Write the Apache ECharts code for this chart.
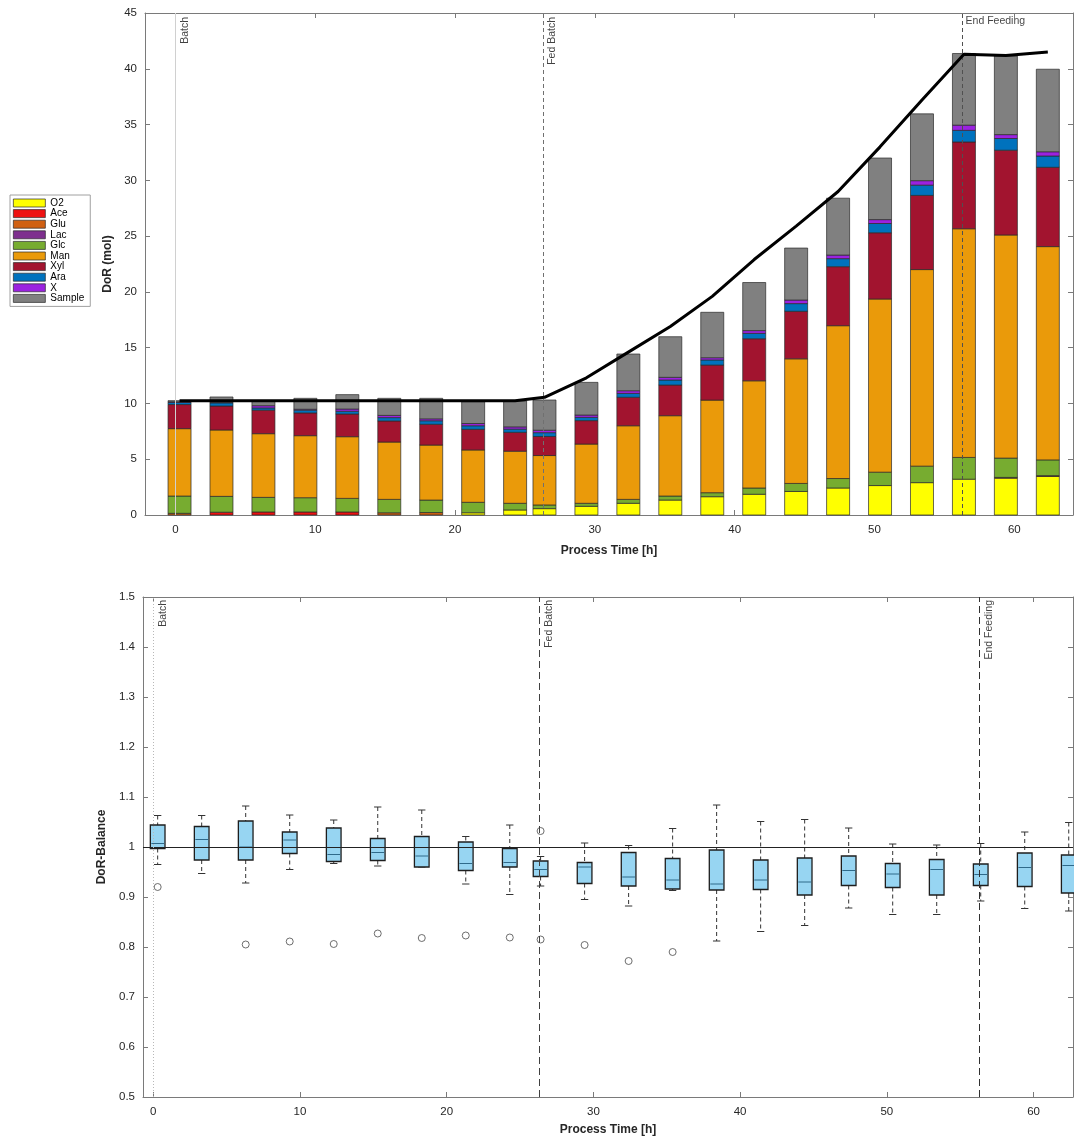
<!DOCTYPE html>
<html><head><meta charset="utf-8">
<script src="https://cdn.jsdelivr.net/npm/echarts@6/dist/echarts.min.js"></script>
<style>html,body{margin:0;padding:0;background:#fff}#c{width:1074px;height:1137px}</style>
</head><body><div id="c"></div>
<script>
// ---------- data ----------
const sampleTimes = [0.3,3.3,6.3,9.3,12.3,15.3,18.3,21.3,24.3,26.4,29.4,32.4,35.4,38.4,41.4,44.4,47.4,50.4,53.4,56.4,59.4,62.4];
const speciesNames = ['O2','Ace','Glu','Lac','Glc','Man','Xyl','Ara','X','Sample'];
const speciesColors = ['#ffff00','#ee1111','#d06012','#7e2f8e','#77ac30','#ea9a0a','#a2142f','#0072bd','#9b22e0','#808080'];
const O2     = [0,0,0,0,0,0,0,0.2,0.45,0.57,0.78,1.05,1.34,1.64,1.86,2.11,2.42,2.64,2.9,3.21,3.3,3.45];
const Ace    = [0,0.25,0.27,0.27,0.27,0,0,0,0,0,0,0,0,0,0,0,0,0,0,0,0,0];
const Glu    = [0.15,0,0,0,0,0.2,0.22,0,0,0,0,0,0,0,0,0,0,0,0,0,0.07,0.08];
const Lac    = [0,0,0,0,0,0,0,0,0,0,0,0,0,0,0,0,0,0,0,0,0,0];
const Glc    = [1.55,1.42,1.31,1.28,1.22,1.2,1.12,0.94,0.6,0.33,0.27,0.35,0.36,0.36,0.56,0.72,0.85,1.2,1.48,1.95,1.73,1.41];
const Man    = [6.04,5.95,5.71,5.56,5.53,5.14,4.93,4.69,4.67,4.43,5.31,6.6,7.2,8.3,9.61,11.17,13.7,15.52,17.62,20.5,20.0,19.12];
const Xyl    = [2.16,2.15,2.11,2.04,2.03,1.89,1.86,1.85,1.69,1.71,2.1,2.55,2.75,3.14,3.77,4.26,5.29,5.94,6.65,7.78,7.6,7.11];
const Ara    = [0.2,0.28,0.2,0.25,0.25,0.3,0.32,0.32,0.29,0.34,0.29,0.35,0.45,0.46,0.48,0.69,0.72,0.83,0.92,1.04,1.05,1.01];
const Xbio   = [0.05,0.05,0.2,0.08,0.2,0.2,0.17,0.2,0.2,0.22,0.21,0.24,0.24,0.2,0.25,0.32,0.32,0.35,0.4,0.47,0.35,0.38];
const Sample = [0.1,0.48,0.4,0.98,1.29,1.53,1.84,1.96,2.32,2.71,2.93,3.29,3.64,4.07,4.31,4.66,5.1,5.52,5.99,6.42,7.05,7.4];
const speciesValues = [O2,Ace,Glu,Lac,Glc,Man,Xyl,Ara,Xbio,Sample];
const dorTotal = [10.25,10.25,10.25,10.25,10.25,10.25,10.25,10.25,10.25,10.55,12.3,14.6,16.9,19.6,22.9,25.9,29.0,33.0,37.2,41.3,41.2,41.5];

const whiskerLow  = [0.965,0.947,0.928,0.955,0.967,0.962,0.960,0.926,0.905,0.922,0.895,0.882,0.913,0.812,0.831,0.843,0.878,0.865,0.865,0.892,0.877,0.872];
const boxQ1       = [0.997,0.974,0.974,0.987,0.971,0.973,0.960,0.953,0.960,0.941,0.927,0.922,0.916,0.914,0.915,0.904,0.923,0.919,0.904,0.923,0.921,0.908];
const boxMedian   = [1.007,1.015,1.000,1.014,0.985,0.989,0.982,0.967,0.969,0.955,0.960,0.940,0.934,0.926,0.934,0.930,0.953,0.946,0.955,0.945,0.959,0.963];
const boxQ3       = [1.044,1.041,1.052,1.030,1.038,1.017,1.021,1.010,0.997,0.972,0.969,0.989,0.977,0.994,0.974,0.978,0.982,0.967,0.975,0.966,0.988,0.984];
const whiskerHigh = [1.063,1.063,1.082,1.064,1.054,1.080,1.074,1.021,1.044,0.981,1.008,1.003,1.037,1.084,1.051,1.055,1.038,1.006,1.004,1.007,1.030,1.049];
const outlierTimes  = [0.3,6.3,9.3,12.3,15.3,18.3,21.3,24.3,26.4,26.4,29.4,32.4,35.4];
const outlierValues = [0.920,0.805,0.811,0.806,0.827,0.818,0.823,0.819,1.032,0.815,0.804,0.772,0.790];

const eventTimes = [0, 26.3, 56.3];
const eventNames = ['Batch','Fed Batch','End Feeding'];
const xTicks = [0,10,20,30,40,50,60];
const topYMax = 45, botYMin = 0.5, botYMax = 1.5;

// ---------- chart ----------
const FONT = "'Liberation Sans', Arial, sans-serif";
const AX = '#7a7a7a', TXT = '#262626';
const chart = echarts.init(document.getElementById('c'), null, {renderer:'canvas'});

function xAx(grid, min, max, pos, showLabel, name){
  return {type:'value', gridIndex:grid, min:min, max:max, position:pos,
    name: name || '', nameLocation:'middle', nameGap: grid===0?30:27,
    nameTextStyle:{fontFamily:FONT,fontSize:12,fontWeight:'bold',color:TXT},
    axisLine:{show:true,onZero:false,lineStyle:{color:AX,width:1}},
    axisTick:{show:true,inside:true,length:5,customValues:xTicks,lineStyle:{color:AX}},
    axisLabel:{show:showLabel,customValues:xTicks,fontFamily:FONT,fontSize:11.5,color:TXT,margin:9},
    splitLine:{show:false}};
}
function yAx(grid, min, max, interval, pos, showLabel, name, fmt){
  return {type:'value', gridIndex:grid, min:min, max:max, interval:interval, position:pos,
    name: name || '', nameLocation:'middle', nameGap:30,
    nameTextStyle:{fontFamily:FONT,fontSize:12,fontWeight:'bold',color:TXT},
    axisLine:{show:true,onZero:false,lineStyle:{color:AX,width:1}},
    axisTick:{show:true,inside:true,length:5,lineStyle:{color:AX}},
    axisLabel:{show:showLabel,fontFamily:FONT,fontSize:11.5,color:TXT,margin:8,formatter:fmt},
    splitLine:{show:false}};
}

const topXMin = -2.17, topXMax = 64.2, botXMin = -0.7, botXMax = 62.69;
const BAR_W_H = 1.645; // bar width in hours

// cumulative stacking (bottom -> top in legend order)
const cum = sampleTimes.map(() => 0);
const series = [];
speciesNames.forEach((nm, k) => {
  const data = sampleTimes.map((t, i) => {
    const base = cum[i];
    cum[i] = base + speciesValues[k][i];
    return [t, base, cum[i]];
  });
  series.push({name:nm, type:'custom', xAxisIndex:0, yAxisIndex:0, z:2,
    itemStyle:{color:speciesColors[k], borderColor:'#2a2a2a', borderWidth:0.7},
    encode:{x:0, y:[1,2]},
    data: data,
    renderItem: function(params, api){
      const t = api.value(0), b = api.value(1), tp = api.value(2);
      if (tp - b <= 0) return null;
      const p0 = api.coord([t, b]), p1 = api.coord([t, tp]);
      const w = api.size([BAR_W_H, 0])[0];
      return {type:'rect', shape:{x:p0[0]-w/2, y:p1[1], width:w, height:p0[1]-p1[1]},
        style:{fill:speciesColors[k], stroke:'#2a2a2a', lineWidth:0.7}};
    }
  });
});

const topEventStyles = [
  {color:'#d0d0d0', type:'solid', width:1},
  {color:'#707070', type:[4,3], width:1},
  {color:'#505050', type:[4,3], width:1}];
const botEventStyles = [
  {color:'#b8b8b8', type:[1,2], width:1},
  {color:'#404040', type:[7,4], width:1},
  {color:'#303030', type:[7,4], width:1}];

series.push({name:'DoR total', type:'line', xAxisIndex:0, yAxisIndex:0, z:5,
  showSymbol:false, symbol:'none', lineStyle:{color:'#000', width:3}, itemStyle:{color:'#000'},
  data: sampleTimes.map((t,i)=>[t, dorTotal[i]]),
  markLine:{silent:true, symbol:['none','none'], label:{show:false}, animation:false,
    data: eventTimes.map((t,i)=>({xAxis:t, lineStyle:topEventStyles[i]}))}
});

// event labels (top)
series.push({name:'top events', type:'scatter', xAxisIndex:0, yAxisIndex:0, symbolSize:0, silent:true, z:6,
  data: eventTimes.map((t,i)=>({value:[t, topYMax], label: i<2 ?
    {show:true, formatter:eventNames[i], rotate:90, align:'right', verticalAlign:'top', padding:[4,4,0,0], fontFamily:FONT, fontSize:10.5, color:'#111'} :
    {show:true, formatter:eventNames[i], rotate:0, align:'left', verticalAlign:'top', padding:[3,0,0,3], fontFamily:FONT, fontSize:10.5, color:'#111'}}))
});

// bottom boxplots
series.push({name:'DoR-Balance', type:'custom', xAxisIndex:2, yAxisIndex:2, z:3,
  encode:{x:0, y:[1,2,3,4,5]},
  data: sampleTimes.map((t,i)=>[t, whiskerLow[i], boxQ1[i], boxMedian[i], boxQ3[i], whiskerHigh[i]]),
  renderItem: function(params, api){
    const t = api.value(0);
    const pLo = api.coord([t, api.value(1)]);
    const pQ1 = api.coord([t, api.value(2)]);
    const pMed = api.coord([t, api.value(3)]);
    const pQ3 = api.coord([t, api.value(4)]);
    const pHi = api.coord([t, api.value(5)]);
    const bw = api.size([1.0, 0])[0];
    const hw = bw/2, cw = bw/4, x = pMed[0];
    const dash = {stroke:'#333', lineWidth:1, lineDash:[4,3]};
    const solid = {stroke:'#333', lineWidth:1};
    return {type:'group', children:[
      {type:'line', shape:{x1:x,y1:pHi[1],x2:x,y2:pQ3[1]}, style:dash},
      {type:'line', shape:{x1:x,y1:pQ1[1],x2:x,y2:pLo[1]}, style:dash},
      {type:'line', shape:{x1:x-cw,y1:pHi[1],x2:x+cw,y2:pHi[1]}, style:solid},
      {type:'line', shape:{x1:x-cw,y1:pLo[1],x2:x+cw,y2:pLo[1]}, style:solid},
      {type:'rect', shape:{x:x-hw,y:pQ3[1],width:bw,height:pQ1[1]-pQ3[1]}, style:{fill:'#97d5f2',stroke:'#1e1e1e',lineWidth:1.3}},
      {type:'line', shape:{x1:x-hw+1,y1:pMed[1],x2:x+hw-1,y2:pMed[1]}, style:{stroke:'#2f6a8a',lineWidth:1}}
    ]};
  },
  markLine:{silent:true, symbol:['none','none'], label:{show:false}, animation:false,
    data: [{yAxis:1, lineStyle:{color:'#222', type:'solid', width:1}}].concat(
      eventTimes.map((t,i)=>({xAxis:t, lineStyle:botEventStyles[i]})))}
});

series.push({name:'Outliers', type:'scatter', xAxisIndex:2, yAxisIndex:2, z:4, symbol:'circle', symbolSize:7,
  itemStyle:{color:'rgba(0,0,0,0)', borderColor:'#4a4a4a', borderWidth:1},
  data: outlierTimes.map((t,i)=>[t, outlierValues[i]])});

series.push({name:'bottom events', type:'scatter', xAxisIndex:2, yAxisIndex:2, symbolSize:0, silent:true, z:6,
  data: eventTimes.map((t,i)=>({value:[t, botYMax], label:
    {show:true, formatter:eventNames[i], rotate:90, align:'right', verticalAlign:'top', padding:[4,3,0,0], fontFamily:FONT, fontSize:10.5, color:'#111'}}))
});

chart.setOption({
  animation:false,
  backgroundColor:'#fff',
  textStyle:{fontFamily:FONT},
  legend:{data:speciesNames, orient:'vertical', left:10, top:195, icon:'rect',
    itemWidth:32, itemHeight:8, itemGap:0.6, padding:[3,6,3,3], selectedMode:false,
    borderColor:'#a0a0a0', borderWidth:1, backgroundColor:'#fff',
    itemStyle:{borderColor:'#2a2a2a', borderWidth:0.7},
    textStyle:{fontFamily:FONT, fontSize:10, lineHeight:10, color:'#000'}},
  grid:[
    {left:145, top:13, right:1, height:502, containLabel:false},
    {left:143, top:597, right:1, height:501, containLabel:false}
  ],
  xAxis:[
    xAx(0, topXMin, topXMax, 'bottom', true, 'Process Time [h]'),
    xAx(0, topXMin, topXMax, 'top', false),
    xAx(1, botXMin, botXMax, 'bottom', true, 'Process Time [h]'),
    xAx(1, botXMin, botXMax, 'top', false)
  ],
  yAxis:[
    yAx(0, 0, topYMax, 5, 'left', true, 'DoR (mol)'),
    yAx(0, 0, topYMax, 5, 'right', false),
    yAx(1, botYMin, botYMax, 0.1, 'left', true, 'DoR-Balance', v => String(Math.round(v*10)/10)),
    yAx(1, botYMin, botYMax, 0.1, 'right', false)
  ],
  series: series
});
</script></body></html>
